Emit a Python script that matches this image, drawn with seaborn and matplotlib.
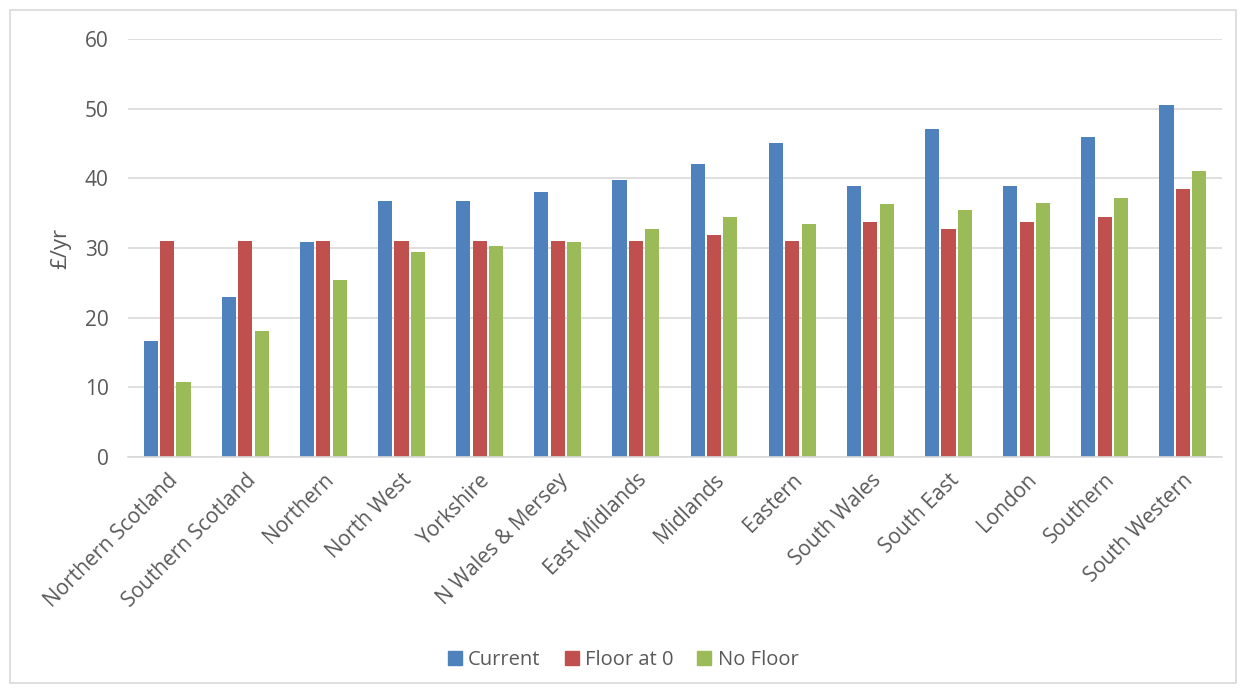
import matplotlib
matplotlib.use("Agg")
import matplotlib.pyplot as plt
import matplotlib.patches as mpatches
import seaborn as sns
import pandas as pd

regions = ["Northern Scotland", "Southern Scotland", "Northern", "North West",
           "Yorkshire", "N Wales & Mersey", "East Midlands", "Midlands",
           "Eastern", "South Wales", "South East", "London", "Southern",
           "South Western"]
current = [16.7, 23.0, 30.8, 36.8, 36.8, 38.0, 39.8, 42.0, 45.1, 38.9, 47.1, 38.9, 46.0, 50.5]
floor_at_0 = [31.0, 31.0, 31.0, 31.0, 31.0, 31.0, 31.0, 31.8, 31.0, 33.7, 32.8, 33.8, 34.5, 38.5]
no_floor = [10.8, 18.1, 25.4, 29.5, 30.3, 30.8, 32.8, 34.5, 33.4, 36.3, 35.4, 36.4, 37.2, 41.0]

series_names = ["Current", "Floor at 0", "No Floor"]
colors = ["#4F81BD", "#C0504D", "#9BBB59"]

df = pd.DataFrame({
    "region": regions * 3,
    "series": sum([[s] * len(regions) for s in series_names], []),
    "value": current + floor_at_0 + no_floor,
})

sns.set_theme(style="white")
plt.rcParams["font.family"] = ["Open Sans", "DejaVu Sans"]
text_col = "#595959"
grid_col = "#D9D9D9"

fig = plt.figure(figsize=(12.46, 6.93), dpi=100)
ax = fig.add_axes([0.1027, 0.3405, 0.878, 0.6032])

sns.barplot(data=df, x="region", y="value", hue="series", palette=colors,
            saturation=1, width=0.63, gap=0.14, ax=ax, legend=False,
            edgecolor="none")

ax.set_ylim(0, 60)
ax.set_yticks(range(0, 61, 10))
ax.set_xlim(-0.5, len(regions) - 0.5)
ax.yaxis.grid(True, color=grid_col, linewidth=1.2)
ax.set_axisbelow(True)
for s in ["top", "right", "left"]:
    ax.spines[s].set_visible(False)
ax.spines["bottom"].set_color(grid_col)
ax.spines["bottom"].set_linewidth(1.2)

ax.set_xlabel("")
ax.set_ylabel("£/yr", fontsize=16, color=text_col, labelpad=10)
ax.tick_params(axis="y", length=0, pad=14, labelsize=15, labelcolor=text_col)
ax.tick_params(axis="x", length=0, pad=9, labelsize=15, labelcolor=text_col)
plt.setp(ax.get_xticklabels(), rotation=45, ha="right", rotation_mode="anchor")

handles = [mpatches.Patch(color=c, label=n) for c, n in zip(colors, series_names)]
leg = fig.legend(handles=handles, loc="center", bbox_to_anchor=(0.5, 0.047), ncol=3,
                 frameon=False, fontsize=14.5, handlelength=0.7, handleheight=0.7,
                 handletextpad=0.3, columnspacing=1.2)
for t in leg.get_texts():
    t.set_color(text_col)

fig.patches.append(mpatches.Rectangle((10 / 1246, 10 / 693), 1226 / 1246, 673 / 693,
                                      transform=fig.transFigure, fill=False,
                                      edgecolor=grid_col, linewidth=1.2))

fig.savefig("out.png", dpi=100)
